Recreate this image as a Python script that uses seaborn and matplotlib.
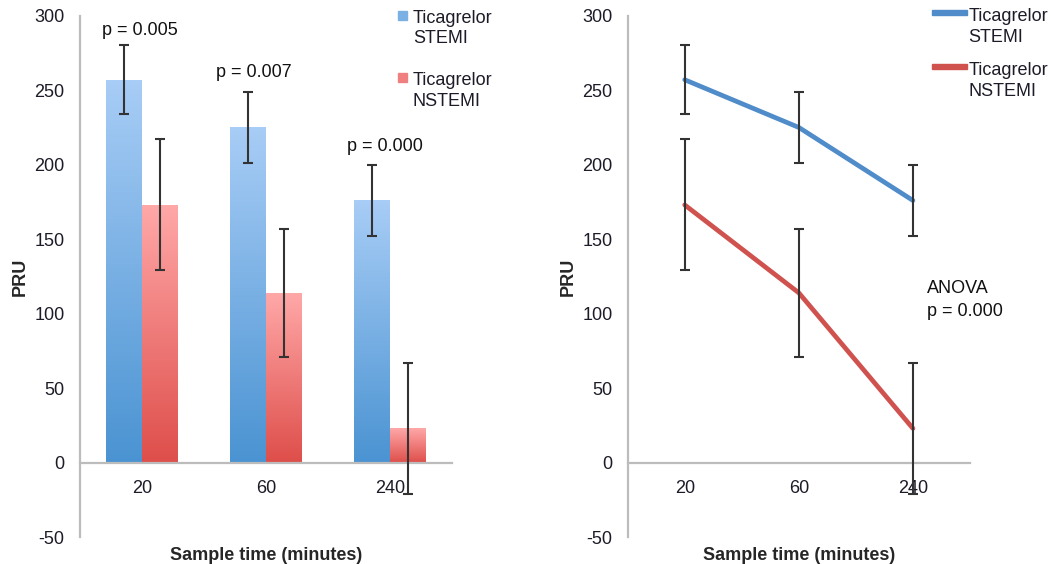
import numpy as np
import pandas as pd
import matplotlib
matplotlib.use("Agg")
import matplotlib.pyplot as plt
import matplotlib.patches as mpatches
from matplotlib.colors import LinearSegmentedColormap
from matplotlib.legend_handler import HandlerPatch
import seaborn as sns

# values
times = ["20", "60", "240"]
groups = ["Ticagrelor\nSTEMI", "Ticagrelor\nNSTEMI"]
stemi_pru = [257, 225, 176]
stemi_err = [23, 24, 24]
nstemi_pru = [173, 114, 23]
nstemi_err = [44, 43, 44]
p_labels = ["p = 0.005", "p = 0.007", "p = 0.000"]
p_pos = [(-0.02, 290), (0.90, 262), (1.96, 212)]
anova_text = "ANOVA\np = 0.000"

df = pd.DataFrame({
    "time": times * 2,
    "pru": stemi_pru + nstemi_pru,
    "group": [groups[0]] * 3 + [groups[1]] * 3,
})
errs = [stemi_err, nstemi_err]

sns.set_theme(style="white")
plt.rcParams["font.family"] = ["Liberation Sans", "DejaVu Sans"]
plt.rcParams["axes.unicode_minus"] = False

blue_line = "#4f8cc9"
red_line = "#d0524f"
grad_blue = LinearSegmentedColormap.from_list("gb", ["#4a93d2", "#a8cdf6"])
grad_red = LinearSegmentedColormap.from_list("gr", ["#de4e4a", "#ffa8a8"])
txt_col = "#1c1c28"
fs = 13

fig = plt.figure(figsize=(10.51, 5.64), dpi=100)
ax1 = fig.add_axes([0.0761, 0.0475, 0.3537, 0.9247])
ax2 = fig.add_axes([0.5972, 0.0475, 0.3257, 0.9247])


def style_axis(ax, ylab_x):
    ax.set_ylim(-50, 300)
    ax.set_xlim(-0.5, 2.5)
    ax.set_yticks([-50, 0, 50, 100, 150, 200, 250, 300])
    for s in ["top", "right"]:
        ax.spines[s].set_visible(False)
    ax.spines["bottom"].set_position(("data", 0))
    for s in ["left", "bottom"]:
        ax.spines[s].set_color("#bcbcbc")
        ax.spines[s].set_linewidth(1.6)
    ax.tick_params(axis="y", length=0, pad=11, labelsize=fs, labelcolor=txt_col)
    ax.tick_params(axis="x", length=0, pad=12.5, labelsize=fs, labelcolor=txt_col)
    ax.set_xlabel("Sample time (minutes)", fontsize=fs, fontweight="bold")
    ax.set_ylabel("PRU", fontsize=fs, fontweight="bold")
    ax.xaxis.set_label_coords(0.5, -0.018)
    ax.yaxis.set_label_coords(ylab_x, 0.5)
    ax.grid(False)


def lifted_square(legend, orig_handle, xdescent, ydescent, width, height, fontsize):
    s = 0.5 * fontsize
    return mpatches.Rectangle((-xdescent, -ydescent + height / 2 - s / 2 + 9.6), s, s)


def lifted_line(legend, orig_handle, xdescent, ydescent, width, height, fontsize):
    h = 3.4
    return mpatches.Rectangle((-xdescent, -ydescent + height / 2 - h / 2 + 11.0), width, h)


# ---- left: bar chart ----
sns.barplot(data=df, x="time", y="pru", hue="group", order=times,
            palette=["#7ab0e4", "#f08080"], width=0.58, errorbar=None,
            legend=False, ax=ax1)

grad = np.linspace(0, 1, 256).reshape(-1, 1)
for cont, cmap, err in zip(ax1.containers, [grad_blue, grad_red], errs):
    xs, ys = [], []
    for bar in cont:
        x0, w, h = bar.get_x(), bar.get_width(), bar.get_height()
        im = ax1.imshow(grad, cmap=cmap, origin="lower", aspect="auto",
                        extent=[x0, x0 + w, 0, h], zorder=bar.get_zorder() + 0.1)
        im.set_clip_path(bar)
        xs.append(x0 + w / 2)
        ys.append(h)
    ax1.errorbar(xs, ys, yerr=err, fmt="none", ecolor="#333333",
                 elinewidth=1.5, capsize=3.8, capthick=1.5, zorder=5)

style_axis(ax1, -0.138)

for lab, (px, py) in zip(p_labels, p_pos):
    ax1.text(px, py, lab, ha="center", va="center", fontsize=fs, color="#111111")

bar_handles = [mpatches.Patch(color="#7ab0e4"), mpatches.Patch(color="#f08080")]
leg1 = fig.legend(bar_handles, groups, loc="upper left",
                  bbox_to_anchor=(398 / 1051, 1 - 9.5 / 564), frameon=False,
                  fontsize=fs, borderpad=0, borderaxespad=0, handlelength=0.5,
                  handletextpad=0.32, labelspacing=1.37,
                  handler_map={mpatches.Patch: HandlerPatch(patch_func=lifted_square)})
for t in leg1.get_texts():
    t.set_linespacing(1.3)
    t.set_color(txt_col)

# ---- right: line chart ----
sns.lineplot(data=df, x="time", y="pru", hue="group", sort=False,
             palette=[blue_line, red_line], linewidth=3.4, legend=False, ax=ax2)
for line, err in zip(ax2.get_lines()[:2], errs):
    ax2.errorbar(line.get_xdata(), line.get_ydata(), yerr=err, fmt="none",
                 ecolor="#333333", elinewidth=1.5, capsize=3.8, capthick=1.5, zorder=3)

style_axis(ax2, -0.15)
ax2.text(2.12, 109, anova_text, ha="left", va="center", fontsize=fs,
         color="#111111", linespacing=1.45)

line_handles = [mpatches.Patch(color=blue_line), mpatches.Patch(color=red_line)]
leg2 = fig.legend(line_handles, groups, loc="upper left",
                  bbox_to_anchor=(931.7 / 1051, 1 - 8.3 / 564), frameon=False,
                  fontsize=fs, borderpad=0, borderaxespad=0, handlelength=1.94,
                  handletextpad=0.08, labelspacing=0.9,
                  handler_map={mpatches.Patch: HandlerPatch(patch_func=lifted_line)})
for t in leg2.get_texts():
    t.set_linespacing(1.3)
    t.set_color(txt_col)

fig.savefig("out.png", dpi=100)
